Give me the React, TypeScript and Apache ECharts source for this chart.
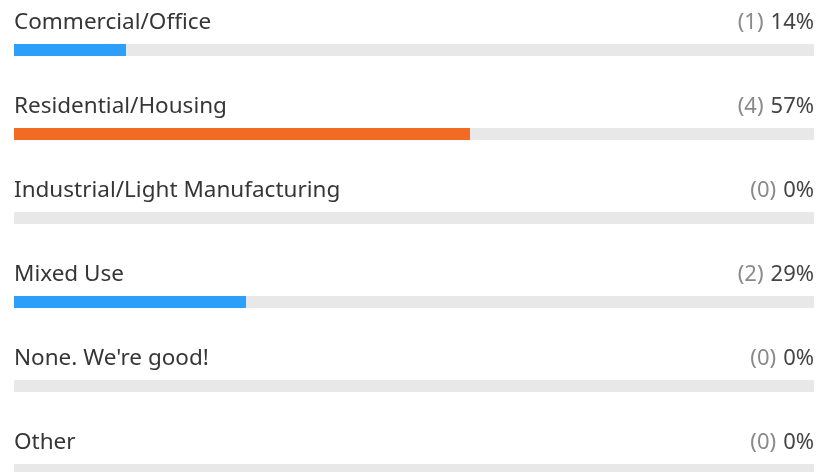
import React, { useEffect, useRef } from "react";
import * as echarts from "echarts";

const categories = [
  "Commercial/Office",
  "Residential/Housing",
  "Industrial/Light Manufacturing",
  "Mixed Use",
  "None. We're good!",
  "Other",
];
const counts = [1, 4, 0, 2, 0, 0];
const percents = [14, 57, 0, 29, 0, 0];
const barColors = ["#2B9FFA", "#F26B22", "#2B9FFA", "#2B9FFA", "#2B9FFA", "#2B9FFA"];

const FONT = "'Noto Sans', 'Open Sans', sans-serif";

export default function App() {
  const ref = useRef<HTMLDivElement>(null);
  useEffect(() => {
    if (!ref.current) return;
    const chart = echarts.init(ref.current, null, { renderer: "svg" });
    chart.setOption({
      animation: false,
      grid: { left: 14, right: 5, top: 8, height: 504 },
      xAxis: { type: "value", min: 0, max: 100, show: false },
      yAxis: { type: "category", inverse: true, data: categories, show: false },
      series: [
        {
          type: "bar",
          barWidth: 12,
          barGap: "-100%",
          silent: true,
          data: categories.map(() => 100),
          itemStyle: { color: "#E8E8E8" },
          label: {
            show: true,
            position: [0, -24],
            align: "left",
            verticalAlign: "middle",
            formatter: (p: any) => categories[p.dataIndex],
            color: "#363636",
            fontSize: 22.5,
            fontFamily: FONT,
          },
        },
        {
          type: "bar",
          barWidth: 12,
          barGap: "-100%",
          data: percents.map((v, i) => ({ value: v, itemStyle: { color: barColors[i] } })),
        },
        {
          type: "bar",
          barWidth: 12,
          barGap: "-100%",
          silent: true,
          data: categories.map(() => 100),
          itemStyle: { color: "rgba(0,0,0,0)" },
          label: {
            show: true,
            position: ["100%", -24],
            align: "right",
            verticalAlign: "middle",
            formatter: (p: any) => `{a|(${counts[p.dataIndex]})}{b|${percents[p.dataIndex]}%}`,
            rich: {
              a: { color: "#8A8A8A", fontSize: 22, fontFamily: FONT, padding: [0, 7, 0, 0] },
              b: { color: "#444444", fontSize: 22, fontFamily: FONT },
            },
          },
        },
      ],
    });
    return () => chart.dispose();
  }, []);
  return (
    <div style={{ position: "fixed", left: 0, top: 0, width: 819, height: 472, overflow: "hidden" }}>
      <div ref={ref} style={{ width: 819, height: 520 }} />
    </div>
  );
}
